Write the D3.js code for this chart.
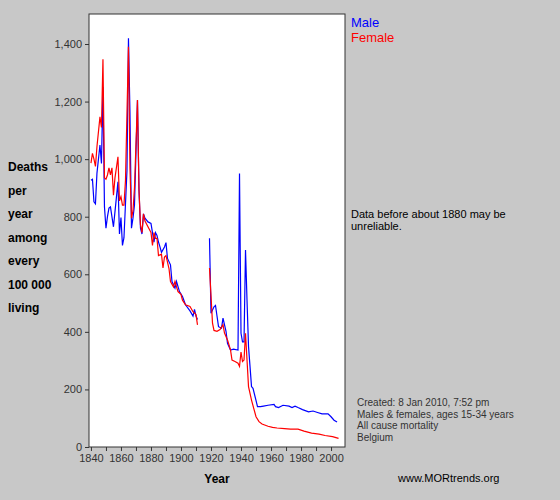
<!DOCTYPE html>
<html><head><meta charset="utf-8">
<script src="https://cdn.jsdelivr.net/npm/d3@7"></script>
<style>
body{margin:0;background:#c8c8c8;font-family:"Liberation Sans",Arial,sans-serif}
</style></head><body>
<svg id="chart" width="560" height="500"></svg>
<script>
// [year, deaths per 100 000]
const maleEarly = [[1840,927],[1841,930],[1842,852],[1843,845],[1844,951],[1846,1049],[1847,985],[1848,1251],[1849,835],[1850,760],[1851,800],[1852,830],[1853,834],[1855,765],[1856,817],[1858,921],[1859,740],[1860,797],[1861,700],[1862,727],[1864,960],[1865,1420],[1866,1160],[1867,760],[1868,795],[1869,840],[1871,1205],[1872,895],[1873,760],[1874,740],[1875,810],[1876,795],[1878,782],[1880,777],[1881,745],[1882,712],[1883,745],[1884,735],[1885,712],[1886,695],[1887,676],[1889,695],[1890,710],[1891,655],[1893,633],[1894,575],[1896,552],[1897,575],[1899,540],[1901,523],[1903,494],[1906,473],[1908,455],[1909,478],[1910,455],[1911,443]];
const femaleEarly = [[1840,986],[1841,1020],[1842,1000],[1843,975],[1844,1043],[1846,1147],[1847,1110],[1848,1347],[1849,935],[1850,930],[1851,945],[1852,970],[1853,945],[1854,970],[1855,875],[1856,935],[1858,1008],[1859,855],[1860,870],[1861,840],[1862,840],[1863,925],[1865,1390],[1866,970],[1867,795],[1868,820],[1869,900],[1871,1205],[1872,895],[1873,772],[1874,745],[1875,810],[1876,785],[1878,765],[1880,745],[1881,700],[1882,745],[1883,725],[1884,725],[1885,665],[1887,670],[1888,622],[1889,660],[1890,665],[1892,620],[1893,575],[1895,556],[1896,575],[1898,540],[1900,530],[1901,510],[1903,494],[1906,488],[1908,470],[1910,460],[1911,424]];
const maleLate = [[1919,725],[1920,465],[1922,487],[1923,492],[1924,455],[1925,418],[1927,413],[1928,448],[1930,402],[1931,360],[1933,337],[1935,340],[1938,337],[1939,950],[1940,395],[1941,365],[1942,365],[1943,684],[1944,510],[1945,349],[1946,280],[1947,210],[1948,204],[1951,140],[1953,140],[1955,142],[1958,145],[1962,148],[1963,140],[1965,137],[1968,145],[1972,142],[1974,137],[1976,142],[1978,137],[1981,130],[1985,122],[1988,125],[1991,120],[1994,115],[1998,115],[2000,105],[2002,93],[2004,87]];
const femaleLate = [[1919,622],[1921,430],[1922,405],[1924,402],[1926,408],[1928,425],[1929,396],[1931,372],[1933,337],[1934,302],[1936,297],[1938,291],[1939,280],[1940,330],[1941,297],[1942,302],[1943,395],[1944,302],[1945,210],[1947,163],[1950,105],[1952,88],[1954,80],[1958,72],[1961,68],[1964,66],[1969,64],[1973,62],[1978,62],[1982,55],[1987,48],[1992,45],[1996,40],[2001,36],[2005,30]];
const xTicks = [1840,1860,1880,1900,1920,1940,1960,1980,2000];
const yTicks = [0,200,400,600,800,1000,1200,1400];
const yLabel = ["Deaths","per","year","among","every","100 000","living"];
const notes = ["Created: 8 Jan 2010, 7:52 pm","Males & females, ages 15-34 years","All cause mortality","Belgium"];

const svg = d3.select("#chart");
const L = 89, R = 345, T = 14, B = 447;
const x = d3.scaleLinear().domain([1838.7, 2009.3]).range([L, R]);
const y = d3.scaleLinear().domain([0, 1400]).range([B, 44]);

svg.append("rect").attr("x", L).attr("y", T).attr("width", R - L).attr("height", B - T)
  .attr("fill", "#fff").attr("stroke", "#333");

const xAx = svg.append("g").attr("transform", `translate(0,${B})`)
  .call(d3.axisBottom(x).tickValues(d3.range(1840, 2010, 10)).tickSize(4)
    .tickFormat(d => xTicks.includes(d) ? d : ""));
const yAx = svg.append("g").attr("transform", `translate(${L},0)`)
  .call(d3.axisLeft(y).tickValues(yTicks).tickSize(4));
[xAx, yAx].forEach(g => {
  g.select(".domain").remove();
  g.selectAll("line").attr("stroke", "#333");
  g.selectAll("text").attr("fill", "#333").style("font-size", "11px").style("font-family", "Liberation Sans, Arial");
});

const line = d3.line().x(d => x(d[0])).y(d => y(d[1]));
[[maleEarly, "#0000ff"], [maleLate, "#0000ff"], [femaleEarly, "#ff0000"], [femaleLate, "#ff0000"]]
  .forEach(([data, c]) => svg.append("path").datum(data).attr("d", line)
    .attr("fill", "none").attr("stroke", c).attr("stroke-width", 1.2));

svg.append("text").attr("x", 351).attr("y", 27).attr("fill", "#0000ff").style("font-size", "13px").text("Male");
svg.append("text").attr("x", 351).attr("y", 42).attr("fill", "#ff0000").style("font-size", "13px").text("Female");
svg.append("text").attr("x", 351).attr("y", 218).style("font-size", "11px").text("Data before about 1880 may be");
svg.append("text").attr("x", 351).attr("y", 230).style("font-size", "11px").text("unreliable.");

yLabel.forEach((t, i) => svg.append("text").attr("x", 8).attr("y", 171 + i * 23.5)
  .style("font-size", "12px").style("font-weight", "bold").text(t));
svg.append("text").attr("x", 217).attr("y", 483).attr("text-anchor", "middle")
  .style("font-size", "12px").style("font-weight", "bold").text("Year");

notes.forEach((t, i) => svg.append("text").attr("x", 357).attr("y", 406 + i * 11.5)
  .attr("fill", "#333").style("font-size", "10px").text(t));
svg.append("text").attr("x", 398).attr("y", 482).style("font-size", "11px").text("www.MORtrends.org");
</script></body></html>
